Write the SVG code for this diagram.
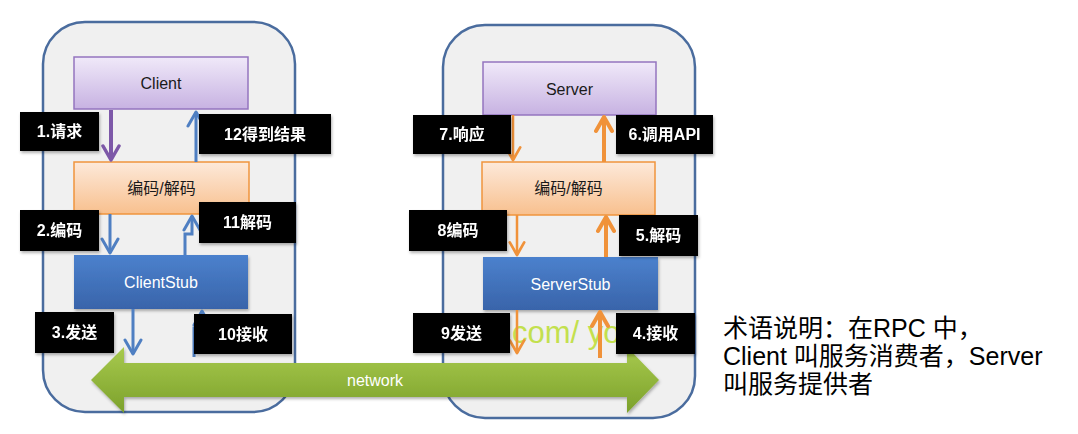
<svg xmlns="http://www.w3.org/2000/svg" width="1078" height="434" viewBox="0 0 1078 434">
<style>
.panel{fill:#f0f0f0;stroke:#4a6c9e;stroke-width:2.5}
.lbl rect{fill:#000}
.lbl text{fill:#fff;font-family:"Liberation Sans","Noto Sans CJK SC",sans-serif;font-size:16px;font-weight:bold;text-anchor:middle}
.ntext{font-family:"Liberation Sans","Noto Sans CJK SC",sans-serif;font-size:16px;text-anchor:middle;fill:#1a1a1a}
.wtext{font-family:"Liberation Sans","Noto Sans CJK SC",sans-serif;font-size:16px;text-anchor:middle;fill:#fff}
.pu{stroke:#7d58a8;stroke-width:4;fill:none}
.bl{stroke:#4f7fc2;stroke-width:3;fill:none}
.or{stroke:#f0923a;stroke-width:2.5;fill:none}
.ork{stroke:#f0923a;stroke-width:4;fill:none}
.note{font-family:"Liberation Sans","Noto Sans CJK SC",sans-serif;font-size:25px;fill:#000}
</style>
<defs>
<linearGradient id="gPurple" x1="0" y1="0" x2="0" y2="1"><stop offset="0" stop-color="#f0e9f9"/><stop offset="1" stop-color="#c7b2e2"/></linearGradient>
<linearGradient id="gOrange" x1="0" y1="0" x2="0" y2="1"><stop offset="0" stop-color="#fde9da"/><stop offset="1" stop-color="#f8c08e"/></linearGradient>
<linearGradient id="gBlue" x1="0" y1="0" x2="0" y2="1"><stop offset="0" stop-color="#4b81cd"/><stop offset="1" stop-color="#3964aa"/></linearGradient>
<linearGradient id="gGreen" x1="0" y1="0" x2="0" y2="1"><stop offset="0" stop-color="#a8ca4e"/><stop offset="1" stop-color="#7ca12b"/></linearGradient>
<filter id="sh" x="-10%" y="-10%" width="130%" height="140%"><feDropShadow dx="1" dy="2" stdDeviation="1.5" flood-color="#000" flood-opacity="0.3"/></filter>
<marker id="mPu" viewBox="0 0 20 20" refX="17" refY="10" markerWidth="20" markerHeight="20" markerUnits="userSpaceOnUse" orient="auto"><path d="M3,2 L17,10 L3,18" fill="none" stroke="#7d58a8" stroke-width="3.5" stroke-linecap="round" stroke-linejoin="round"/></marker>
<marker id="mBl" viewBox="0 0 20 20" refX="17" refY="10" markerWidth="20" markerHeight="20" markerUnits="userSpaceOnUse" orient="auto"><path d="M3,2 L17,10 L3,18" fill="none" stroke="#4f7fc2" stroke-width="3" stroke-linecap="round" stroke-linejoin="round"/></marker>
<marker id="mOr" viewBox="0 0 20 20" refX="17" refY="10" markerWidth="18" markerHeight="18" markerUnits="userSpaceOnUse" orient="auto"><path d="M3,2 L17,10 L3,18" fill="none" stroke="#f0923a" stroke-width="3" stroke-linecap="round" stroke-linejoin="round"/></marker>
<marker id="mOrk" viewBox="0 0 20 20" refX="17" refY="10" markerWidth="20" markerHeight="20" markerUnits="userSpaceOnUse" orient="auto"><path d="M3,2 L17,10 L3,18" fill="none" stroke="#f0923a" stroke-width="4" stroke-linecap="round" stroke-linejoin="round"/></marker>
</defs>
<rect width="1078" height="434" fill="#fff"/>

<g id="client-side"><rect class="panel" x="43" y="22" width="252" height="390" rx="42"/></g>
<g id="server-side"><rect class="panel" x="443" y="25" width="252" height="393" rx="42"/></g>

<g id="client"><rect x="74" y="57" width="174" height="52" fill="url(#gPurple)" stroke="#9474bf" stroke-width="1.5"/><text class="ntext" x="161" y="89">Client</text></g>
<g id="client-codec"><rect x="74" y="162" width="175" height="52" fill="url(#gOrange)" stroke="#f0943c" stroke-width="1.5"/><text class="ntext" x="161.5" y="194">编码/解码</text></g>
<g id="clientstub"><rect x="74" y="255" width="174" height="54" fill="url(#gBlue)" filter="url(#sh)"/><text class="wtext" x="161" y="288">ClientStub</text></g>

<g id="server"><rect x="483" y="62" width="173" height="53" fill="url(#gPurple)" stroke="#9474bf" stroke-width="1.5"/><text class="ntext" x="569.5" y="95">Server</text></g>
<g id="server-codec"><rect x="482" y="162" width="173" height="53" fill="url(#gOrange)" stroke="#f0943c" stroke-width="1.5"/><text class="ntext" x="568.5" y="194">编码/解码</text></g>
<g id="serverstub"><rect x="483" y="257" width="175" height="53" fill="url(#gBlue)" filter="url(#sh)"/><text class="wtext" x="570.5" y="290">ServerStub</text></g>

<text x="512" y="343" font-family="Liberation Sans,sans-serif" font-size="31" fill="#c3e04e">com/ yo</text>

<g id="network"><polygon points="91,380 124,347 124,363 627,363 627,347 659,380 627,413 627,397 124,397 124,413" fill="url(#gGreen)" filter="url(#sh)"/><text class="wtext" x="375" y="386" font-size="14">network</text></g>

<g id="connectors">
<path class="pu" d="M111,110 V160" marker-end="url(#mPu)"/>
<path class="bl" d="M196,162 V112" marker-end="url(#mBl)"/>
<path class="bl" d="M110,214 V253" marker-end="url(#mBl)"/>
<path class="bl" d="M185,255 V234 H192 V216" marker-end="url(#mBl)"/>
<path class="bl" d="M133,309 V354" marker-end="url(#mBl)"/>
<path class="bl" d="M194,357 V328 H202 V311" marker-end="url(#mBl)"/>
<path class="or" d="M513,115 V160" marker-end="url(#mOr)"/>
<path class="ork" d="M604,162 V117" marker-end="url(#mOrk)"/>
<path class="or" d="M517,215 V255" marker-end="url(#mOr)"/>
<path class="ork" d="M606,257 V217" marker-end="url(#mOrk)"/>
<path class="or" d="M517,310 V353" marker-end="url(#mOr)"/>
<path class="ork" d="M600,358 V312" marker-end="url(#mOrk)"/>
</g>

<g id="labels" class="lbl">
<g filter="url(#sh)"><rect x="20" y="112" width="79" height="39"/><text x="59.5" y="137">1.请求</text></g>
<g filter="url(#sh)"><rect x="199" y="114" width="132" height="40"/><text x="265" y="140">12得到结果</text></g>
<g filter="url(#sh)"><rect x="20" y="210" width="79" height="41"/><text x="59.5" y="236">2.编码</text></g>
<g filter="url(#sh)"><rect x="199" y="202" width="97" height="41"/><text x="247.5" y="228">11解码</text></g>
<g filter="url(#sh)"><rect x="35" y="312" width="79" height="41"/><text x="74.5" y="338">3.发送</text></g>
<g filter="url(#sh)"><rect x="194" y="314" width="98" height="40"/><text x="243" y="340">10接收</text></g>
<g filter="url(#sh)"><rect x="413" y="115" width="98" height="39"/><text x="462" y="140">7.响应</text></g>
<g filter="url(#sh)"><rect x="616" y="115" width="97" height="39"/><text x="664.5" y="140">6.调用API</text></g>
<g filter="url(#sh)"><rect x="409" y="210" width="98" height="41"/><text x="458" y="236">8编码</text></g>
<g filter="url(#sh)"><rect x="619" y="215" width="79" height="41"/><text x="658.5" y="241">5.解码</text></g>
<g filter="url(#sh)"><rect x="413" y="313" width="97" height="40"/><text x="461.5" y="339">9发送</text></g>
<g filter="url(#sh)"><rect x="616" y="313" width="79" height="41"/><text x="655.5" y="339">4.接收</text></g>
</g>

<g id="note">
<text class="note" x="723" y="337">术语说明：在RPC 中，</text>
<text class="note" x="723" y="365">Client 叫服务消费者，Server</text>
<text class="note" x="723" y="393">叫服务提供者</text>
</g>
</svg>
